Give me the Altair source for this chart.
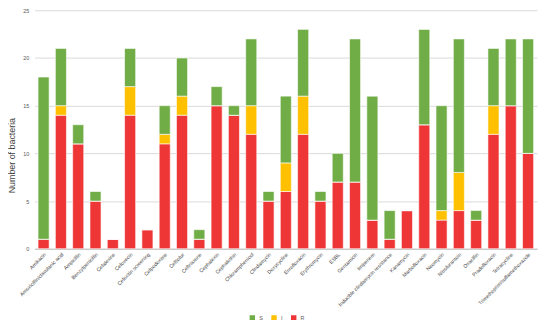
import altair as alt
import pandas as pd

drugs = ["Amikacin", "Amoxicillin/clavulanic acid", "Ampicillin", "Benzylpenicillin",
         "Cefalexine", "Cefovecin", "Cefoxitin screening", "Cefpodoxime", "Ceftiofur",
         "Ceftriaxone", "Cephalexin", "Cephalothin", "Chloramphenicol", "Clindamycin",
         "Doxycycline", "Enrofloxacin", "Erythromycin", "ESBL", "Gentamicin", "Imipenem",
         "Inducible clindamycin resistance", "Kanamycin", "Marbofloxacin", "Neomycin",
         "Nitrofurantoin", "Oxacillin", "Pradofloxacin", "Tetracycline",
         "Trimethoprim/sulfamethoxazole"]
R = [1, 14, 11, 5, 1, 14, 2, 11, 14, 1, 15, 14, 12, 5, 6, 12, 5, 7, 7, 3, 1, 4, 13, 3, 4, 3, 12, 15, 10]
I = [0, 1, 0, 0, 0, 3, 0, 1, 2, 0, 0, 0, 3, 0, 3, 4, 0, 0, 0, 0, 0, 0, 0, 1, 4, 0, 3, 0, 0]
S = [17, 6, 2, 1, 0, 4, 0, 3, 4, 1, 2, 1, 7, 1, 7, 7, 1, 3, 15, 13, 3, 0, 10, 11, 14, 1, 6, 7, 12]

cats = ["S", "I", "R"]
colors = ["#70ad47", "#ffc000", "#ee3636"]
stack_order = {"R": 0, "I": 1, "S": 2}

rows = []
for i, d in enumerate(drugs):
    for c, vals in (("R", R), ("I", I), ("S", S)):
        rows.append({"drug": d, "cat": c, "value": vals[i], "ord": stack_order[c]})
df = pd.DataFrame(rows)

chart = alt.Chart(df).mark_bar(stroke="white", strokeWidth=0.6).encode(
    x=alt.X("drug:N", sort=drugs, title=None,
            scale=alt.Scale(paddingInner=0.36, paddingOuter=0.2),
            axis=alt.Axis(labelAngle=-45, labelFontSize=5.2, labelColor="#444444",
                          ticks=False, grid=False, domainColor="#bfbfbf", labelPadding=3,
                          labelFont="Liberation Sans", labelLimit=200)),
    y=alt.Y("value:Q", stack="zero", title="Number of bacteria",
            scale=alt.Scale(domain=[0, 25]),
            axis=alt.Axis(values=[0, 5, 10, 15, 20, 25], domain=False, ticks=False, grid=True,
                          labelFontSize=5.5, labelColor="#595959", labelPadding=6,
                          labelFont="Liberation Sans", gridColor="#d9d9d9",
                          titleFont="Liberation Sans", titleFontSize=9,
                          titleFontWeight="normal", titleColor="#404040",
                          titleX=-27, titleY=147, titleBaseline="top", titleAngle=-90)),
    color=alt.Color("cat:N", scale=alt.Scale(domain=cats, range=colors), title=None,
                    legend=alt.Legend(orient="none", legendX=218, legendY=309,
                                      direction="horizontal", symbolType="square",
                                      symbolSize=30, symbolStrokeWidth=0,
                                      labelFontSize=5.5, labelColor="#595959",
                                      labelFont="Liberation Sans", columnPadding=8)),
    order=alt.Order("ord:Q", sort="ascending"),
).properties(
    width=510, height=242,
    autosize=alt.AutoSizeParams(type="none"),
    padding={"left": 27, "top": 0, "right": 5, "bottom": 70},
).configure_view(stroke=None)

chart.save("out.html", embed_options={"renderer": "svg", "actions": False})
